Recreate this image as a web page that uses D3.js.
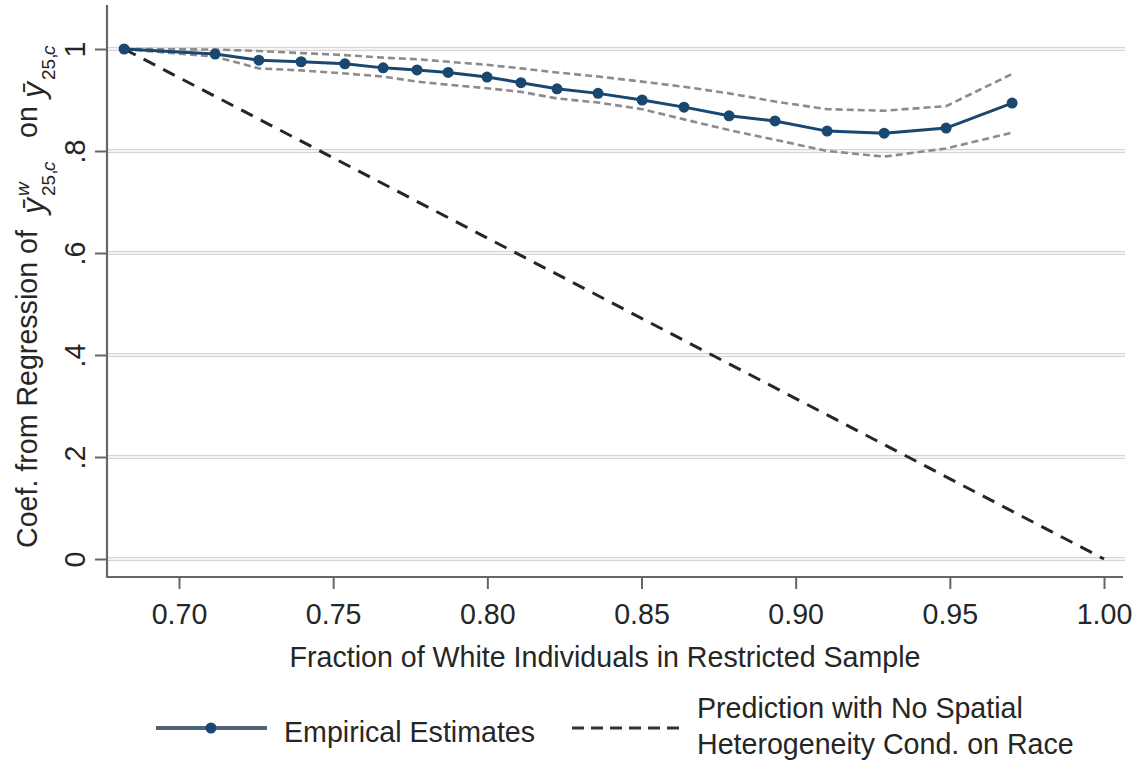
<!DOCTYPE html>
<html>
<head>
<meta charset="utf-8">
<script src="https://cdn.jsdelivr.net/npm/d3@7/dist/d3.min.js"></script>
<style>
  html, body { margin: 0; padding: 0; background: #ffffff; }
  svg { display: block; }
  text { font-family: "Liberation Sans", Arial, sans-serif; fill: #262626; }
</style>
</head>
<body>
<svg id="chart" width="1140" height="763"></svg>
<script>
// ---------- data ----------
const fracWhite = [0.6822, 0.7117, 0.7259, 0.7396, 0.7538, 0.7662, 0.7772, 0.7873, 0.7999, 0.8109,
                   0.8226, 0.8359, 0.8502, 0.8638, 0.8784, 0.8933, 0.9102, 0.9287, 0.9488, 0.9702];
const estimates = [1.000, 0.990, 0.978, 0.975, 0.971, 0.963, 0.959, 0.954, 0.945, 0.934,
                   0.922, 0.913, 0.900, 0.886, 0.869, 0.859, 0.839, 0.835, 0.845, 0.894];
const upperCI   = [1.000, 0.999, 0.996, 0.992, 0.988, 0.983, 0.980, 0.975, 0.969, 0.962,
                   0.954, 0.946, 0.936, 0.926, 0.913, 0.897, 0.882, 0.879, 0.888, 0.951];
const lowerCI   = [1.000, 0.985, 0.962, 0.958, 0.952, 0.946, 0.936, 0.930, 0.923, 0.916,
                   0.903, 0.895, 0.882, 0.862, 0.841, 0.822, 0.800, 0.789, 0.805, 0.836];
const predX = [0.6822, 1.00];
const predY = [1.00, 0.00];
const xTicks = [0.70, 0.75, 0.80, 0.85, 0.90, 0.95, 1.00];
const xTickLabels = ["0.70", "0.75", "0.80", "0.85", "0.90", "0.95", "1.00"];
const yTicks = [0, 0.2, 0.4, 0.6, 0.8, 1.0];
const yTickLabels = ["0", ".2", ".4", ".6", ".8", "1"];
const xTitle = "Fraction of White Individuals in Restricted Sample";
const yTitleText = "Coef. from Regression of";
const legendLabels = ["Empirical Estimates", ["Prediction with No Spatial", "Heterogeneity Cond. on Race"]];

// ---------- layout ----------
const plotLeft = 107, plotRight = 1123, plotTop = 5, plotBottom = 577;
const navy = "#1a476f";
const fs = 28.6;
const svg = d3.select("#chart");

const x = d3.scaleLinear().domain([0.70, 1.00]).range([179, 1104]);
const y = d3.scaleLinear().domain([0, 1]).range([559, 49]);

// gridlines
const grid = svg.append("g");
yTicks.forEach(t => {
  grid.append("line").attr("x1", plotLeft).attr("x2", plotRight + 2)
    .attr("y1", y(t)).attr("y2", y(t))
    .attr("stroke", "#d4d4d4").attr("stroke-width", 4);
  grid.append("line").attr("x1", plotLeft).attr("x2", plotRight + 2)
    .attr("y1", y(t)).attr("y2", y(t))
    .attr("stroke", "#f4f4f4").attr("stroke-width", 2);
});

// axes
const xAxis = d3.axisBottom(x).tickValues(xTicks)
  .tickFormat((d, i) => xTickLabels[i]).tickSize(12).tickPadding(15);
const gx = svg.append("g").attr("transform", `translate(0,${plotBottom})`).call(xAxis);
gx.select(".domain").remove();
gx.selectAll(".tick line").attr("stroke", "#666").attr("stroke-width", 2);
gx.selectAll(".tick text").attr("font-size", fs).attr("fill", "#262626")
  .attr("font-family", "Liberation Sans, Arial, sans-serif");

const yAxis = d3.axisLeft(y).tickValues(yTicks)
  .tickFormat((d, i) => yTickLabels[i]).tickSize(12);
const gy = svg.append("g").attr("transform", `translate(${plotLeft},0)`).call(yAxis);
gy.select(".domain").remove();
gy.selectAll(".tick line").attr("stroke", "#666").attr("stroke-width", 2);
gy.selectAll(".tick text").attr("font-size", fs).attr("fill", "#262626")
  .attr("font-family", "Liberation Sans, Arial, sans-serif")
  .attr("x", 0).attr("y", 0).attr("dy", 0)
  .attr("text-anchor", "middle")
  .attr("transform", "translate(-22,0) rotate(-90)");

// axis lines
svg.append("path")
  .attr("d", `M${plotLeft},${plotTop} L${plotLeft},${plotBottom} L${plotRight},${plotBottom}`)
  .attr("fill", "none").attr("stroke", "#666").attr("stroke-width", 2.2)
  .attr("stroke-linejoin", "round");

// CI lines
const pts = (ys) => fracWhite.map((v, i) => [x(v), y(ys[i])]);
const lineGen = d3.line();
[upperCI, lowerCI].forEach(arr => {
  svg.append("path").attr("d", lineGen(pts(arr)))
    .attr("fill", "none").attr("stroke", "#8c8c8c").attr("stroke-width", 2.6)
    .attr("stroke-dasharray", "7,4");
});

// prediction line
svg.append("path").attr("d", lineGen(predX.map((v, i) => [x(v), y(predY[i])])))
  .attr("fill", "none").attr("stroke", "#262626").attr("stroke-width", 3)
  .attr("stroke-dasharray", "13,9");

// empirical estimates
svg.append("path").attr("d", lineGen(pts(estimates)))
  .attr("fill", "none").attr("stroke", navy).attr("stroke-width", 3);
svg.append("g").selectAll("circle").data(fracWhite).join("circle")
  .attr("cx", d => x(d)).attr("cy", (d, i) => y(estimates[i])).attr("r", 5.5)
  .attr("fill", navy);

// x title
svg.append("text").attr("x", 605).attr("y", 667).attr("text-anchor", "middle")
  .attr("font-size", fs).text(xTitle);

// y title (rotated, with math)
const yt = svg.append("g").attr("transform", "translate(37,548) rotate(-90)");
yt.append("text").attr("x", 0).attr("y", 0).attr("font-size", fs).text(yTitleText);
const mathFont = "Liberation Serif, DejaVu Serif, serif";
function ybar(g, d, hasSup) {
  g.append("text").attr("x", d).attr("y", 7).attr("font-size", 32)
    .attr("font-style", "italic").attr("font-family", mathFont).text("ȳ");
  if (hasSup) {
    g.append("text").attr("x", d + 18).attr("y", -8).attr("font-size", 19)
      .attr("font-style", "italic").attr("font-family", mathFont).text("w");
  }
  g.append("text").attr("x", d + 18).attr("y", 18).attr("font-size", 19)
    .attr("font-family", mathFont).text("25,");
  g.append("text").attr("x", d + 18 + 25).attr("y", 18).attr("font-size", 19)
    .attr("font-style", "italic").attr("font-family", mathFont).text("c");
}
ybar(yt, 334, true);
yt.append("text").attr("x", 410).attr("y", 0).attr("font-size", fs).text("on");
ybar(yt, 450, false);

// legend
const lg = svg.append("g");
lg.append("line").attr("x1", 156).attr("x2", 267).attr("y1", 728).attr("y2", 728)
  .attr("stroke", "#4d6378").attr("stroke-width", 4);
lg.append("circle").attr("cx", 211).attr("cy", 728).attr("r", 5.5).attr("fill", navy);
lg.append("text").attr("x", 284).attr("y", 742).attr("font-size", fs).text(legendLabels[0]);
lg.append("line").attr("x1", 572).attr("x2", 679).attr("y1", 728).attr("y2", 728)
  .attr("stroke", "#333").attr("stroke-width", 3).attr("stroke-dasharray", "12,7");
lg.append("text").attr("x", 697).attr("y", 718).attr("font-size", fs).text(legendLabels[1][0]);
lg.append("text").attr("x", 697).attr("y", 754).attr("font-size", fs).text(legendLabels[1][1]);
</script>
</body>
</html>
